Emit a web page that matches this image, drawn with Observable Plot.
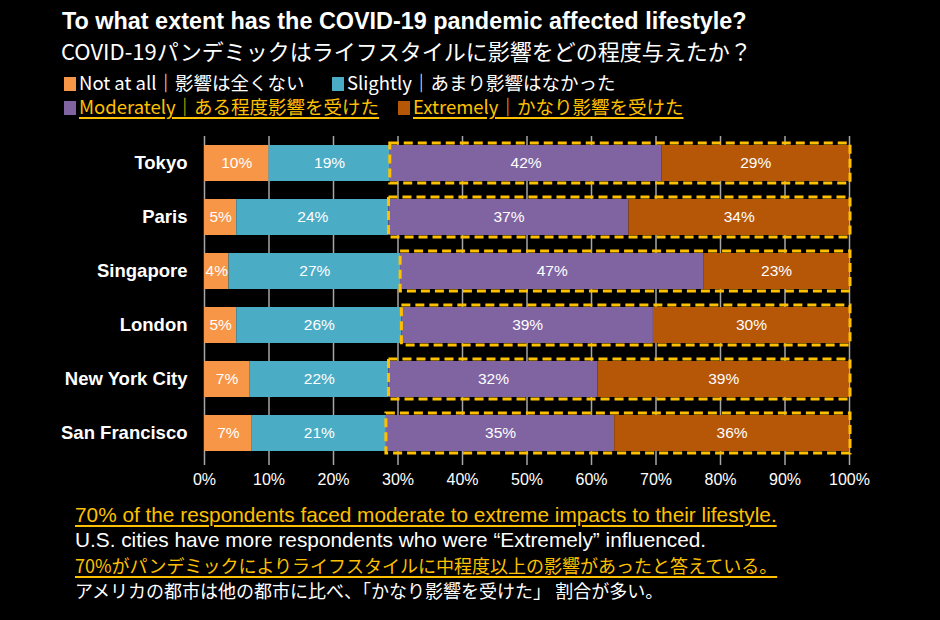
<!DOCTYPE html>
<html>
<head>
<meta charset="utf-8">
<script src="https://cdn.jsdelivr.net/npm/d3@7"></script>
<script src="https://cdn.jsdelivr.net/npm/@observablehq/plot@0.6"></script>
<style>
  html, body { margin: 0; padding: 0; background: #000; }
  body { width: 940px; height: 620px; position: relative; overflow: hidden; font-family: "Liberation Sans", Arial, sans-serif; color: #fff; }
  .t { position: absolute; white-space: nowrap; }
  .jp { font-family: "Noto Sans CJK JP", "Liberation Sans", sans-serif; }
  .hl { color: #FFC000; text-decoration: underline; text-underline-offset: 3px; text-decoration-thickness: 1.5px; }
  .sw { position: absolute; width: 12px; height: 14px; }
  #chart { position: absolute; left: 0; top: 130px; }
</style>
</head>
<body>
<div id="root"></div>
<div id="chart"></div>
<script>
const cities = ["Tokyo", "Paris", "Singapore", "London", "New York City", "San Francisco"];
const categories = ["Not at all", "Slightly", "Moderately", "Extremely"];
const categoryLabels = ["Not at all｜影響は全くない", "Slightly｜あまり影響はなかった", "Moderately｜ある程度影響を受けた ", "Extremely｜かなり影響を受けた"];
const colors = ["#F79646", "#4BACC6", "#8064A2", "#B65708"];
const notAtAll   = [10.0, 5.0, 3.8, 5.0, 7.0, 7.4];
const slightly   = [18.8, 23.6, 26.6, 25.6, 21.6, 20.8];
const moderately = [42.1, 37.2, 47.0, 39.0, 32.4, 35.4];
const extremely  = [29.1, 34.2, 22.6, 30.4, 39.0, 36.4];
const xTicks = [0, 10, 20, 30, 40, 50, 60, 70, 80, 90, 100];
const title = "To what extent has the COVID-19 pandemic affected lifestyle?";
const subtitle = "COVID-19パンデミックはライフスタイルに影響をどの程度与えたか？";
const notes = [
  "70% of the respondents faced moderate to extreme impacts to their lifestyle.",
  "U.S. cities have more respondents who were “Extremely” influenced.",
  "70%がパンデミックによりライフスタイルに中程度以上の影響があったと答えている。",
  "アメリカの都市は他の都市に比べ、「かなり影響を受けた」 割合が多い。"
];

const series = [notAtAll, slightly, moderately, extremely];
const rows = [];
cities.forEach((c, i) => {
  let acc = 0;
  series.forEach((s, k) => {
    rows.push({city: c, cat: categories[k], x1: acc, x2: acc + s[i], v: s[i]});
    acc += s[i];
  });
});
const outline = cities.map((c, i) => ({city: c, x1: notAtAll[i] + slightly[i], x2: 100}));

const root = document.getElementById("root");
function add(html) { root.insertAdjacentHTML("beforeend", html); }
add(`<div class="t" style="left:62px;top:8px;font-size:23.4px;font-weight:bold;">${title}</div>`);
add(`<div class="t jp" style="left:61px;top:34px;font-size:22px;">${subtitle}</div>`);
// legend
const legendPos = [[64, 73], [332, 73], [64, 97], [398, 97]];
categories.forEach((c, k) => {
  const [lx, ly] = legendPos[k];
  add(`<div class="sw" style="left:${lx}px;top:${ly+4}px;background:${colors[k]};"></div>`);
  add(`<div class="t jp ${k >= 2 ? "hl" : ""}" style="left:${lx+15}px;top:${ly-4}px;font-size:18.5px;">${categoryLabels[k]}</div>`);
});
// notes
notes.forEach((n, i) => {
  const isJp = i >= 2;
  add(`<div class="t ${isJp ? "jp" : ""} ${i % 2 === 0 ? "hl" : ""}" style="left:75px;top:${505 + i*25 - (isJp ? 3 : 2)}px;font-size:${isJp ? 18 : 20.8}px;">${n}</div>`);
});

const chart = Plot.plot({
  width: 940,
  height: 370,
  marginLeft: 204,
  marginRight: 91,
  marginTop: 6,
  marginBottom: 40,
  style: {background: "transparent", color: "#fff", fontFamily: "Liberation Sans, Arial, sans-serif"},
  x: {domain: [0, 100], ticks: xTicks, tickFormat: d => d + "%"},
  y: {domain: cities, paddingInner: 0.33, paddingOuter: 0.165, label: null},
  color: {domain: categories, range: colors},
  marks: [
    Plot.gridX(xTicks, {stroke: "#A6A6A6", strokeOpacity: 1, strokeWidth: 1.5}),
    Plot.axisX(xTicks, {tickSize: 5, tickPadding: 8, fontSize: 16, stroke: "#A6A6A6", strokeWidth: 1.5, tickFormat: d => d + "%", fill: "#fff", label: null}),
    Plot.axisY({tickSize: 0, tickPadding: 17, fontSize: 18.5, fontWeight: "bold", fill: "#fff", label: null}),
    Plot.barX(rows, {y: "city", x1: "x1", x2: "x2", fill: "cat"}),
    Plot.text(rows, {y: "city", x: d => (d.x1 + d.x2) / 2, text: d => Math.round(d.v) + "%", fill: "#fff", fontSize: 15.5}),
    Plot.barX(outline, {y: "city", x1: "x1", x2: "x2", fill: "none", stroke: "#FFC000", strokeWidth: 3, strokeDasharray: "9,5", insetTop: -2, insetBottom: -2, insetRight: -1})
  ]
});
document.getElementById("chart").appendChild(chart);
</script>
</body>
</html>
